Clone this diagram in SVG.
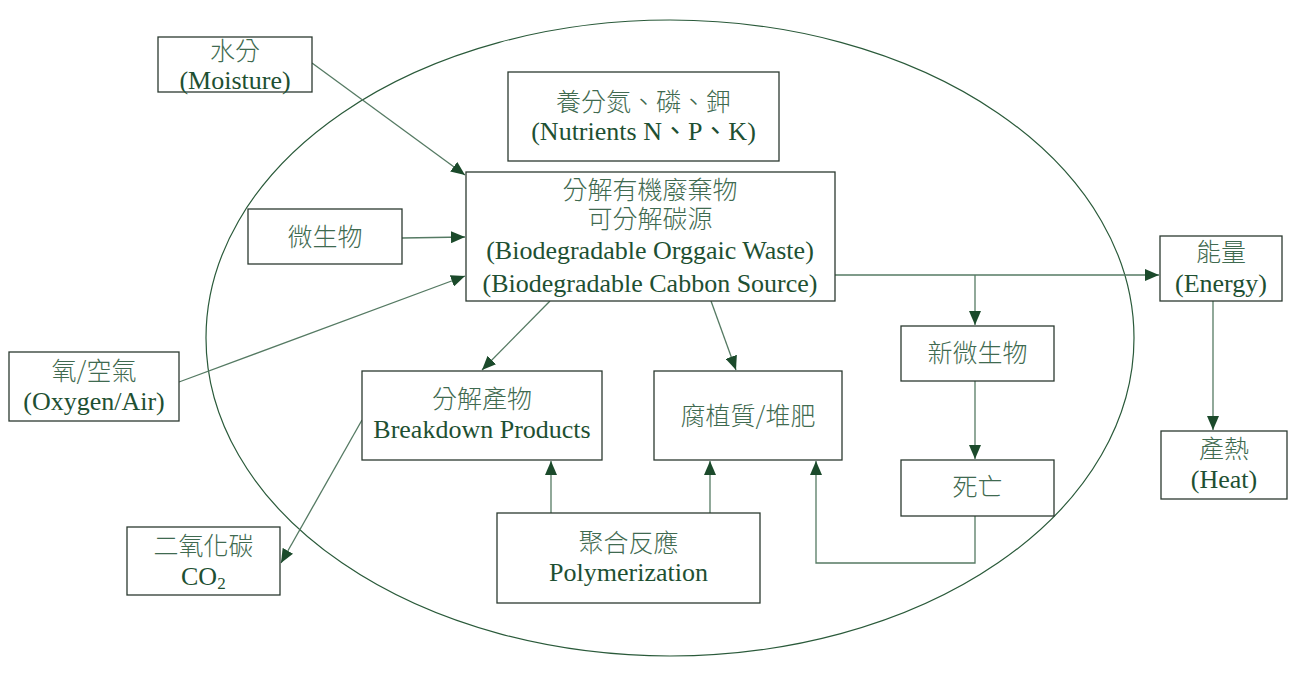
<svg xmlns="http://www.w3.org/2000/svg" width="1295" height="673" viewBox="0 0 1295 673">
<style>
.box{fill:#fff;stroke:#2b3a30;stroke-width:1.3}
text{text-anchor:middle}
.t{font-family:"Liberation Serif","Times New Roman",Tinos,"DejaVu Serif","Noto Sans CJK TC",serif;font-size:26px;fill:#1e5032}
.c{font-family:"Noto Sans CJK TC","Noto Sans CJK SC",sans-serif;font-size:25px;fill:#3f6a50;font-weight:300}
.ln{fill:none;stroke:#557a63;stroke-width:1.3}
.el{fill:none;stroke:#2a5a3a;stroke-width:1.2}
</style>
<defs>
<marker id="ah" markerUnits="userSpaceOnUse" markerWidth="16" markerHeight="12" refX="14" refY="6" orient="auto">
<path d="M0,0 L14,6 L0,12 z" fill="#1b4a2b"/>
</marker>
</defs>
<ellipse class="el" cx="670" cy="338" rx="464" ry="318"/>
<g id="connectors">
<line class="ln" x1="312" y1="63" x2="465" y2="175" marker-end="url(#ah)"/>
<line class="ln" x1="402" y1="238" x2="465" y2="237" marker-end="url(#ah)"/>
<line class="ln" x1="179" y1="382" x2="465" y2="276" marker-end="url(#ah)"/>
<line class="ln" x1="550" y1="301" x2="482" y2="370" marker-end="url(#ah)"/>
<line class="ln" x1="711" y1="301" x2="736" y2="370" marker-end="url(#ah)"/>
<line class="ln" x1="835" y1="275" x2="1159" y2="275" marker-end="url(#ah)"/>
<line class="ln" x1="975" y1="275" x2="975" y2="325" marker-end="url(#ah)"/>
<line class="ln" x1="975" y1="381" x2="975" y2="459" marker-end="url(#ah)"/>
<polyline class="ln" points="975,516 975,563 816,563 816,461" marker-end="url(#ah)"/>
<line class="ln" x1="551" y1="513" x2="551" y2="461" marker-end="url(#ah)"/>
<line class="ln" x1="710" y1="513" x2="710" y2="461" marker-end="url(#ah)"/>
<line class="ln" x1="362" y1="420" x2="281" y2="563" marker-end="url(#ah)"/>
<line class="ln" x1="1213" y1="301" x2="1213" y2="430" marker-end="url(#ah)"/>
</g>
<g id="moisture">
<rect class="box" x="158" y="37" width="154" height="55"/>
<text x="235" y="60"><tspan class="c">水分</tspan><tspan class="t" x="235" y="89">(Moisture)</tspan></text>
</g>
<g id="nutrients">
<rect class="box" x="508" y="72" width="271" height="89"/>
<text x="643.5" y="111"><tspan class="c">養分氮、磷、鉀</tspan><tspan class="t" x="643.5" y="140">(Nutrients N、P、K)</tspan></text>
</g>
<g id="waste">
<rect class="box" x="466" y="172" width="369" height="129"/>
<text x="650" y="199"><tspan class="c">分解有機廢棄物</tspan><tspan class="c" x="650" y="228">可分解碳源</tspan><tspan class="t" x="650" y="259">(Biodegradable Orggaic Waste)</tspan><tspan class="t" x="650" y="292">(Biodegradable Cabbon Source)</tspan></text>
</g>
<g id="microbes">
<rect class="box" x="248" y="209" width="154" height="55"/>
<text class="c" x="325" y="246">微生物</text>
</g>
<g id="oxygen">
<rect class="box" x="9" y="352" width="170" height="69"/>
<text x="94" y="380"><tspan class="c">氧/空氣</tspan><tspan class="t" x="94" y="410">(Oxygen/Air)</tspan></text>
</g>
<g id="breakdown">
<rect class="box" x="362" y="371" width="240" height="89"/>
<text x="482" y="408"><tspan class="c">分解產物</tspan><tspan class="t" x="482" y="438">Breakdown Products</tspan></text>
</g>
<g id="humus">
<rect class="box" x="654" y="371" width="188" height="89"/>
<text class="c" x="748" y="425">腐植質/堆肥</text>
</g>
<g id="co2">
<rect class="box" x="127" y="527" width="153" height="68"/>
<text class="c" x="203.5" y="555">二氧化碳</text>
<text class="t" x="181" y="585" style="text-anchor:start">CO<tspan font-size="17" dy="4">2</tspan></text>
</g>
<g id="polymerization">
<rect class="box" x="497" y="513" width="263" height="90"/>
<text x="628.5" y="552"><tspan class="c">聚合反應</tspan><tspan class="t" x="628.5" y="581">Polymerization</tspan></text>
</g>
<g id="newmicrobes">
<rect class="box" x="901" y="326" width="153" height="55"/>
<text class="c" x="977.5" y="362">新微生物</text>
</g>
<g id="death">
<rect class="box" x="901" y="460" width="153" height="56"/>
<text class="c" x="977.5" y="496">死亡</text>
</g>
<g id="energy">
<rect class="box" x="1160" y="236" width="122" height="65"/>
<text x="1221" y="261"><tspan class="c">能量</tspan><tspan class="t" x="1221" y="292">(Energy)</tspan></text>
</g>
<g id="heat">
<rect class="box" x="1161" y="431" width="126" height="68"/>
<text x="1224" y="458"><tspan class="c">產熱</tspan><tspan class="t" x="1224" y="488">(Heat)</tspan></text>
</g>
</svg>
